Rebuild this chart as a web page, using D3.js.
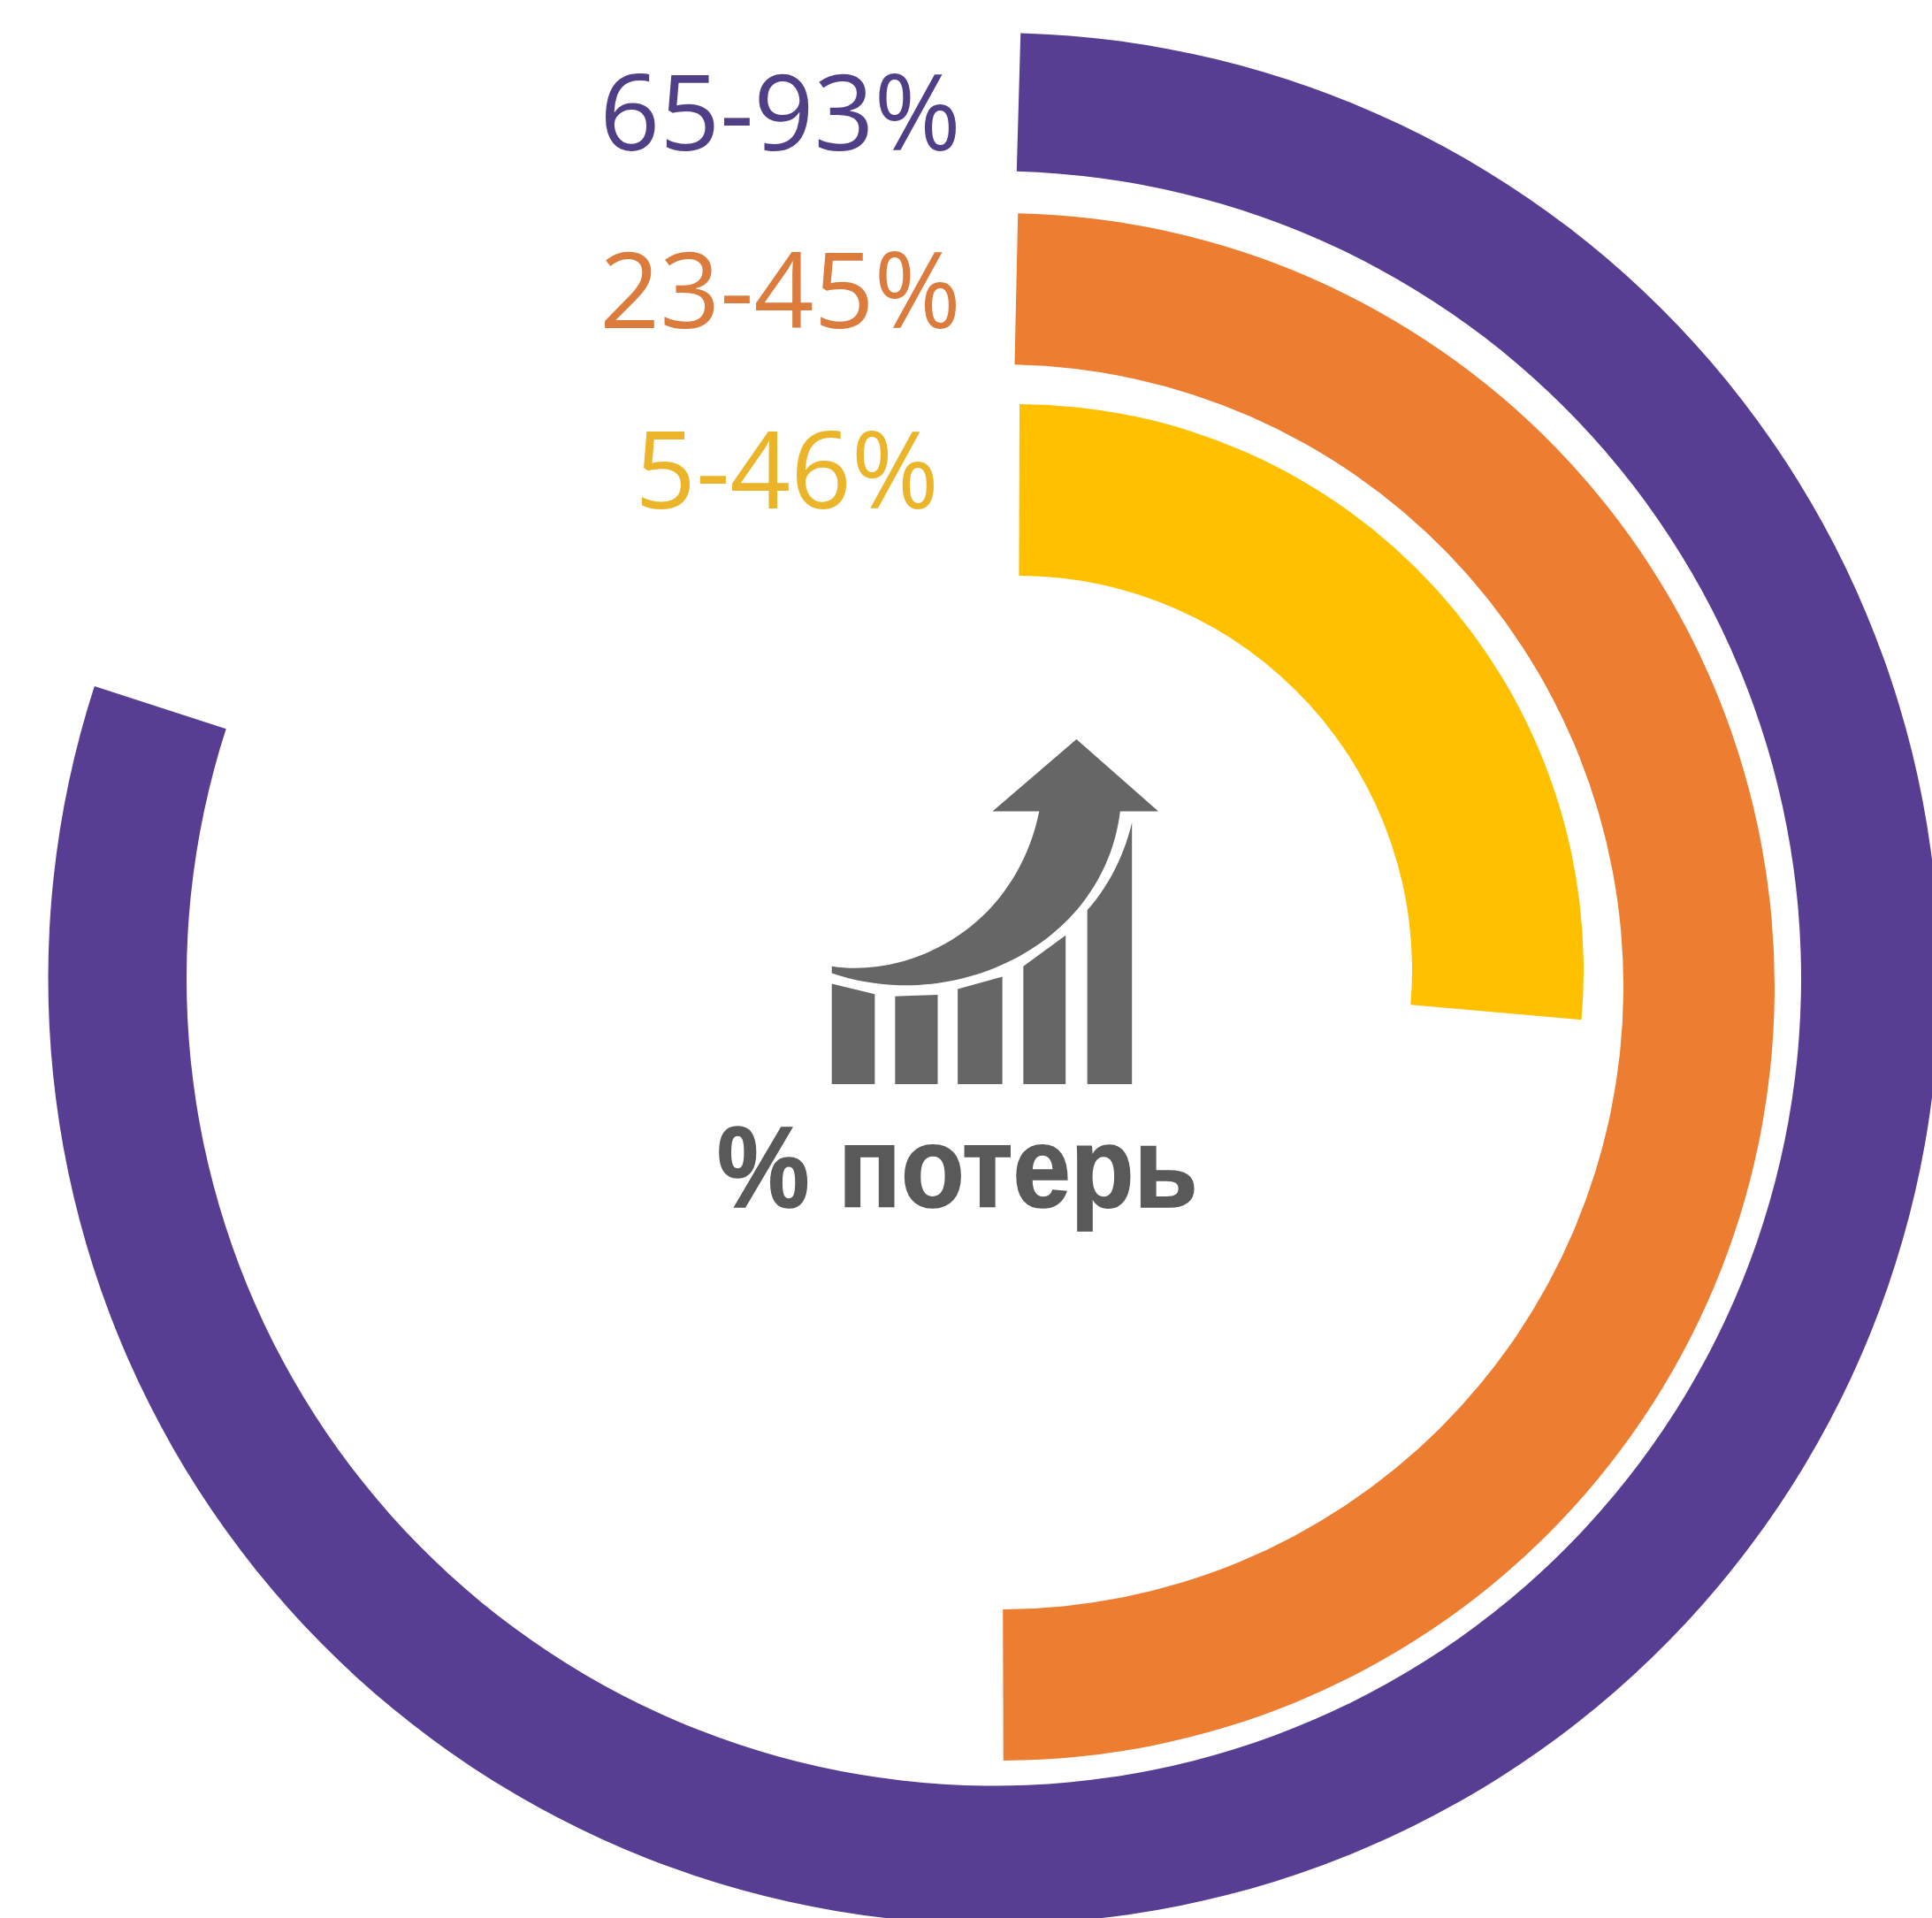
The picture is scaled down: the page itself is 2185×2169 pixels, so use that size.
<!DOCTYPE html>
<html><head><meta charset="utf-8">
<script src="https://cdn.jsdelivr.net/npm/d3@7/dist/d3.min.js"></script>
<style>html,body{margin:0;padding:0;background:#fff}svg{display:block}</style>
</head><body>
<script>
// Data: share of the full circle swept by each ring
const categories = ["65-93%", "23-45%", "5-46%"];
const arcStartShare = [0.0045, 0.0035, 0.0005];
const arcEndShare = [0.8, 0.4995, 0.264];
const centerLabel = "% потер\u044C";

// Layout and style
const W = 2185, H = 2169;
const colors = ["#573e92", "#ed7d31", "#ffc000"];
const labelColors = ["#503f87", "#db7b3c", "#ecb429"];
const rings = [
  {cx: 1124, cy: 1106.5, outer: 1069.5, inner: 913},
  {cx: 1132, cy: 1116, outer: 875, inner: 704},
  {cx: 1151, cy: 1097, outer: 640, inner: 446}
];
const labelPos = [{x: 1087, y: 170, size: 119}, {x: 1087, y: 371, size: 119}, {x: 1062, y: 575, size: 120}];

const svg = d3.select("body").append("svg").attr("width", W).attr("height", H);
svg.append("rect").attr("width", W).attr("height", H).attr("fill", "#fff");

const angle = d3.scaleLinear().domain([0, 1]).range([0, 2 * Math.PI]);
const arc = d3.arc();

svg.selectAll("path.ring").data(categories).join("path")
  .attr("class", "ring")
  .attr("transform", (d, i) => `translate(${rings[i].cx},${rings[i].cy})`)
  .attr("fill", (d, i) => colors[i])
  .attr("d", (d, i) => arc({
    innerRadius: rings[i].inner, outerRadius: rings[i].outer,
    startAngle: angle(arcStartShare[i]), endAngle: angle(arcEndShare[i])
  }));

svg.selectAll("text.lab").data(categories).join("text")
  .attr("class", "lab")
  .attr("x", (d, i) => labelPos[i].x)
  .attr("y", (d, i) => labelPos[i].y)
  .attr("text-anchor", "end")
  .attr("fill", (d, i) => labelColors[i])
  .attr("font-family", "'Open Sans', sans-serif")
  .attr("font-size", (d, i) => labelPos[i].size)
  .text(d => d);

// Icon: bars with a rising arrow
const icon = svg.append("g")
  .attr("transform", `translate(780,799.6) scale(${1 / 2.613},0.396)`)
  .attr("fill", "#666666");
const iconPaths = [
  "M420,1077 V790 L547,820 V1077 Z",
  "M607,1077 V826 L733,822 V1077 Z",
  "M792,1077 V805 L924,770 V1077 Z",
  "M986,1077 V740 L1111,652 V1077 Z",
  "M1175,1077 V580 C1240,510 1285,420 1307,330 V1077 Z",
  "M895,298 L1143,92 L1385,298 L1272,298 C1225,680 780,880 420,760 L420,740 C640,775 960,640 1033,298 Z"
];
icon.selectAll("path").data(iconPaths).join("path").attr("d", d => d);

svg.append("text")
  .attr("transform", "translate(811,1365) scale(1,1.1)")
  .attr("fill", "#595959")
  .attr("stroke", "#595959")
  .attr("stroke-width", 1.5)
  .attr("font-family", "'Liberation Sans', Arial, sans-serif")
  .attr("font-weight", 700)
  .attr("font-size", 117.5)
  .text(centerLabel);
</script>
</body></html>
